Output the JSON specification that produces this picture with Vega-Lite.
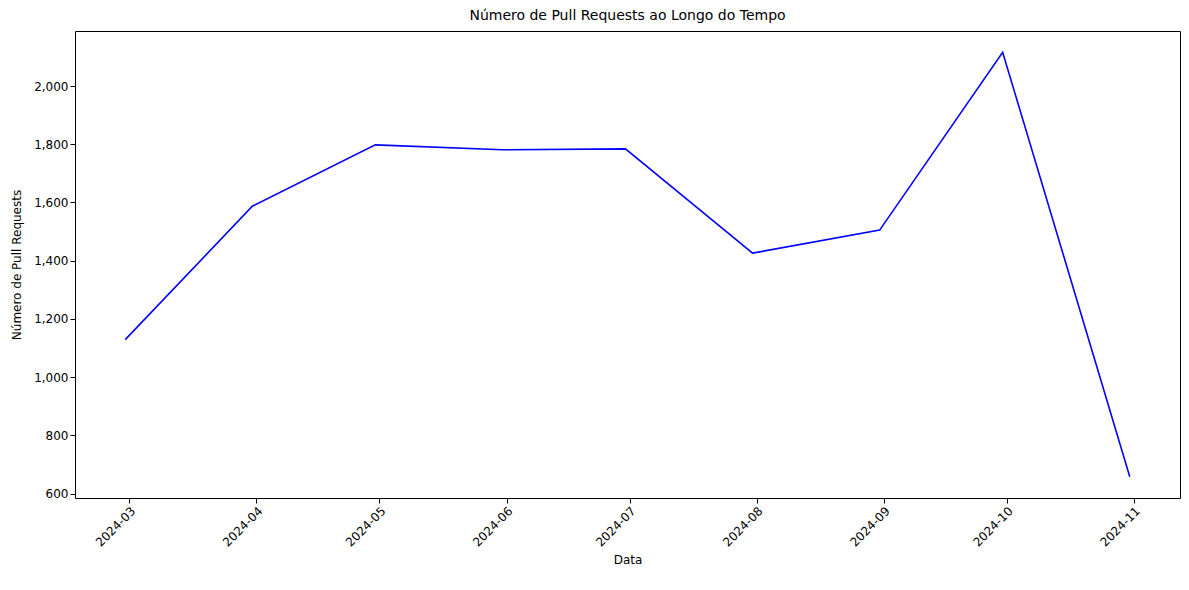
{
"$schema":"https://vega.github.io/schema/vega-lite/v6.json",
"width":1105,"height":467,
"autosize":{"type":"none"},
"padding":{"left":75,"top":31,"right":9,"bottom":92},
"background":"white",
"config":{"view":{"stroke":"black","strokeWidth":1},"font":"DejaVu Sans"},
"title":{"text":"Número de Pull Requests ao Longo do Tempo","fontSize":14,"fontWeight":"normal","color":"black","offset":8},
"data":{"values":[
{"data":"2024-02-29","prs":1129},
{"data":"2024-03-31","prs":1587},
{"data":"2024-04-30","prs":1798},
{"data":"2024-05-31","prs":1781},
{"data":"2024-06-30","prs":1784},
{"data":"2024-07-31","prs":1426},
{"data":"2024-08-31","prs":1505},
{"data":"2024-09-30","prs":2116},
{"data":"2024-10-31","prs":658}
]},
"mark":{"type":"line","color":"blue","strokeWidth":1.6},
"encoding":{
"x":{"field":"data","type":"temporal","title":"Data",
"scale":{"domain":[{"year":2024,"month":2,"date":16,"hours":18},{"year":2024,"month":11,"date":12,"hours":6}]},
"axis":{"format":"%Y-%m","labelAngle":-45,"tickCount":{"interval":"month","step":1},"grid":false,"domain":false,"tickColor":"black","labelColor":"black","labelFontSize":12,"titleFontSize":12,"titleFontWeight":"normal","titleColor":"black","labelAlign":"right","labelBaseline":"top","titlePadding":6}},
"y":{"field":"prs","type":"quantitative","title":"Número de Pull Requests",
"scale":{"domain":[585,2189],"nice":false,"zero":false},
"axis":{"values":[600,800,1000,1200,1400,1600,1800,2000],"grid":false,"domain":false,"tickColor":"black","labelColor":"black","labelFontSize":12,"titleFontSize":12,"titleFontWeight":"normal","titleColor":"black","titlePadding":10}}
}
}
